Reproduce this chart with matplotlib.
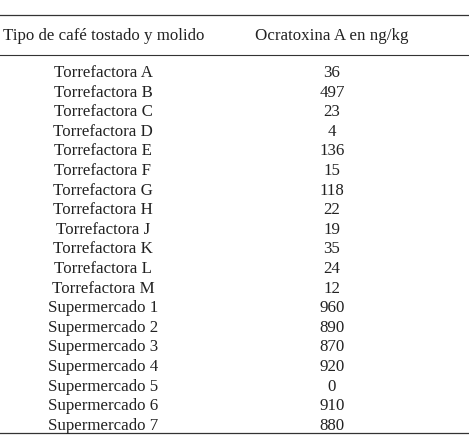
import matplotlib.pyplot as plt

# Data
header_left = "Tipo de café tostado y molido"
header_right = "Ocratoxina A en ng/kg"
names = ["Torrefactora A", "Torrefactora B", "Torrefactora C", "Torrefactora D",
         "Torrefactora E", "Torrefactora F", "Torrefactora G", "Torrefactora H",
         "Torrefactora J", "Torrefactora K", "Torrefactora L", "Torrefactora M",
         "Supermercado 1", "Supermercado 2", "Supermercado 3", "Supermercado 4",
         "Supermercado 5", "Supermercado 6", "Supermercado 7"]
values = [36, 497, 23, 4, 136, 15, 118, 22, 19, 35, 24, 12,
          960, 890, 870, 920, 0, 910, 880]

W, H = 469, 436
fig = plt.figure(figsize=(W / 100, H / 100), dpi=100)
ax = fig.add_axes([0, 0, 1, 1])
ax.set_xlim(0, W)
ax.set_ylim(H, 0)
ax.axis("off")

font = dict(family="Liberation Serif", fontsize=12.2, color="#222222")

ax.plot([0, W], [15, 15], color="#333333", lw=0.9)
ax.plot([0, W], [55, 55], color="#333333", lw=0.8)
ax.plot([0, W], [433, 433], color="#333333", lw=0.9)

ax.text(104, 36, header_left, ha="center", va="center", **font)
ax.text(332, 36, header_right, ha="center", va="center", **font)

for i, (n, v) in enumerate(zip(names, values)):
    y = 73 + i * 19.6
    ax.text(103, y, n, ha="center", va="center", **font)
    ax.text(332, y, str(v), ha="center", va="center", **font)

fig.savefig("out.png", dpi=100)
